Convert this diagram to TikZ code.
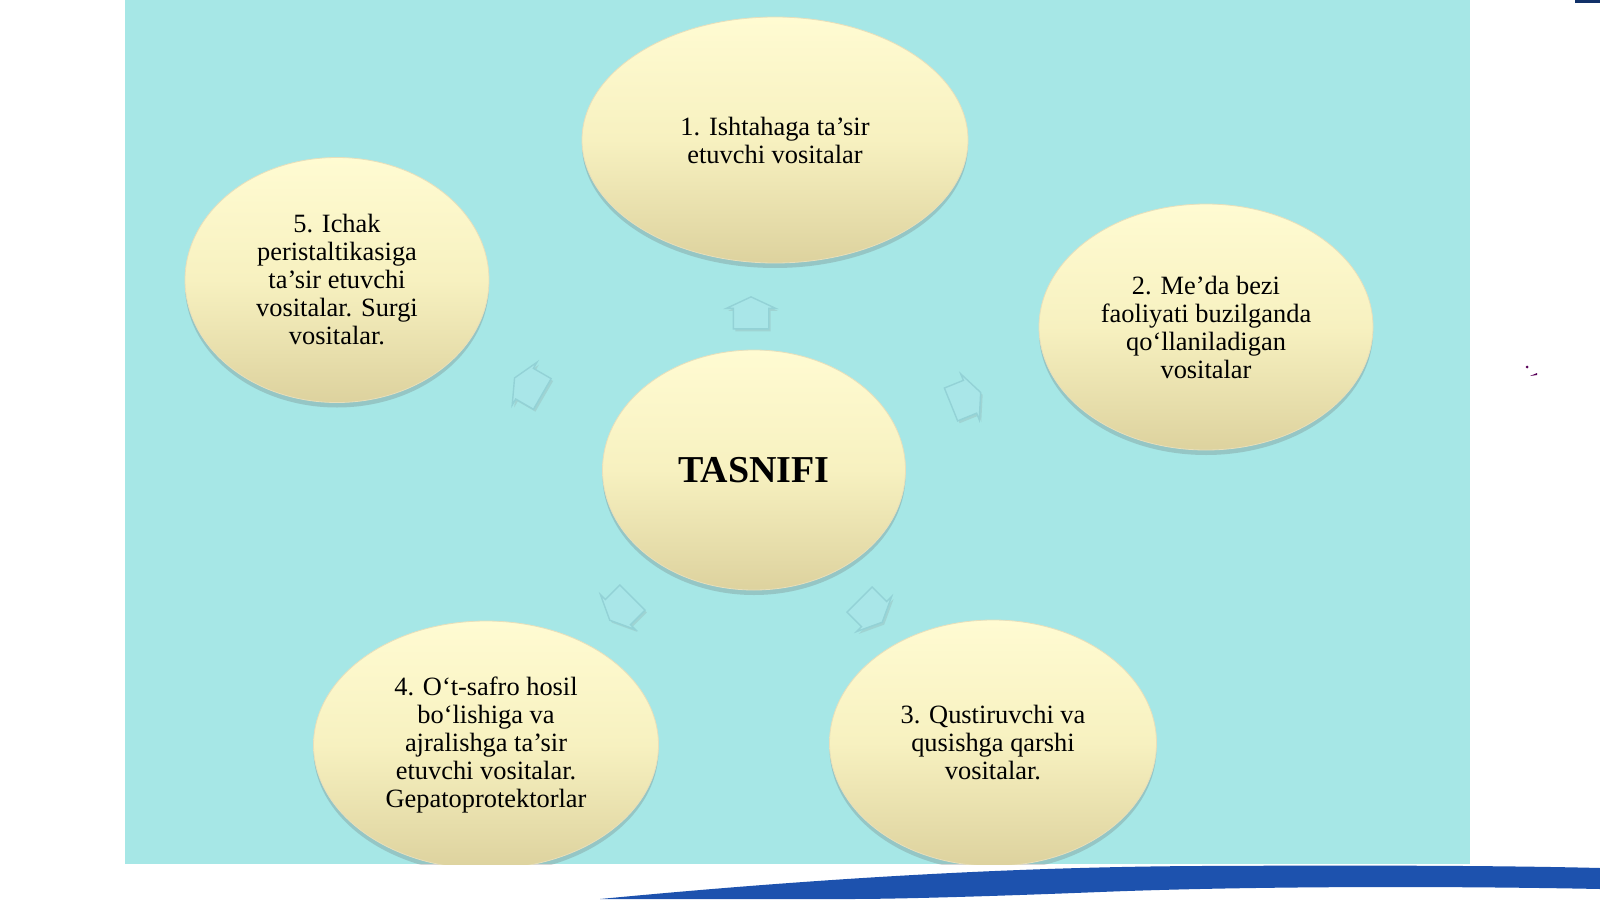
\documentclass[tikz,border=0pt]{standalone}
\usepackage{fontspec}
\setmainfont{Liberation Serif}
\usetikzlibrary{shapes.geometric,shapes.arrows,shadows}
\definecolor{bgcyan}{HTML}{A6E7E6}
\definecolor{elltop}{HTML}{FFFBD2}
\definecolor{ellmid}{HTML}{F7F1C0}
\definecolor{ellbot}{HTML}{DDD29E}
\definecolor{arrfill}{HTML}{A9E6E8}
\definecolor{arredge}{HTML}{93D2D6}
\definecolor{swoosh}{HTML}{1D52AE}
\tikzset{
  bubble/.style={ellipse, inner sep=0pt, align=center,
    top color=elltop, bottom color=ellbot, middle color=ellmid,
    draw=ellbot!70!white, line width=0.4pt,
    drop shadow={shadow xshift=0pt, shadow yshift=-2.5pt, opacity=0.25, fill=black!60},
    font=\fontsize{13.2}{14}\selectfont},
  blockarrow/.style={single arrow, minimum height=16pt, minimum width=24.5pt,
    inner xsep=0pt, inner ysep=8.5pt, single arrow tip angle=130,
    single arrow head extend=3.5pt, fill=arrfill, draw=arredge, line width=0.7pt,
    drop shadow={shadow xshift=1pt, shadow yshift=-1.2pt, opacity=0.18}}
}
\begin{document}
\begin{tikzpicture}[x=0.5pt,y=-0.5pt]
\useasboundingbox (0,0) rectangle (1600,899);
\fill[white] (0,0) rectangle (1600,899);
\fill[bgcyan] (125,0) rectangle (1470,864);
% ellipses
\begin{scope}
\clip (125,0) rectangle (1470,864);
\node[bubble, minimum width=386pt*0.5, minimum height=246pt*0.5] (n1) at (775,140) {1. Ishtahaga ta’sir\\etuvchi vositalar};
\node[bubble, minimum width=334pt*0.5, minimum height=246pt*0.5] (n2) at (1206,327) {2. Me’da bezi\\faoliyati buzilganda\\qo‘llaniladigan\\vositalar};
\node[bubble, minimum width=327pt*0.5, minimum height=246pt*0.5] (n3) at (993,743) {3. Qustiruvchi va\\qusishga qarshi\\vositalar.};
\node[bubble, minimum width=345pt*0.5, minimum height=248pt*0.5] (n4) at (486,745) {4. O‘t-safro hosil\\bo‘lishiga va\\ajralishga ta’sir\\etuvchi vositalar.\\Gepatoprotektorlar};
\node[bubble, minimum width=304pt*0.5, minimum height=245pt*0.5] (n5) at (337,280) {5. Ichak\\peristaltikasiga\\ta’sir etuvchi\\vositalar. Surgi\\vositalar.};
\node[bubble, minimum width=303pt*0.5, minimum height=240pt*0.5, font=\fontsize{19}{22}\selectfont\bfseries] (c) at (754,470) {TASNIFI};
\end{scope}
% block arrows
\node[blockarrow, rotate=90] (a1) at (751,317) {};
\node[blockarrow, rotate=150] (a5) at (532,388) {};
\node[blockarrow, rotate=22] (a2) at (962,400) {};
\node[blockarrow, rotate=225] (a4) at (624,606) {};
\node[blockarrow, rotate=315] (a3) at (868,608) {};
% swoosh
\fill[swoosh] (600,899) .. controls (800,880) and (1000,867) .. (1200,866)
  .. controls (1400,865) and (1520,866) .. (1600,868) -- (1600,889)
  .. controls (1450,886) and (1250,886) .. (1100,892)
  .. controls (1000,896) and (900,899) .. (850,899) -- cycle;
\fill[swoosh!60!black] (1575,0) rectangle (1600,3);
\fill[violet!70!black] (1527,367) circle (1.5);
\fill[violet!70!black] (1530,376) -- (1537,373) -- (1537,375) -- cycle;
\end{tikzpicture}
\end{document}
